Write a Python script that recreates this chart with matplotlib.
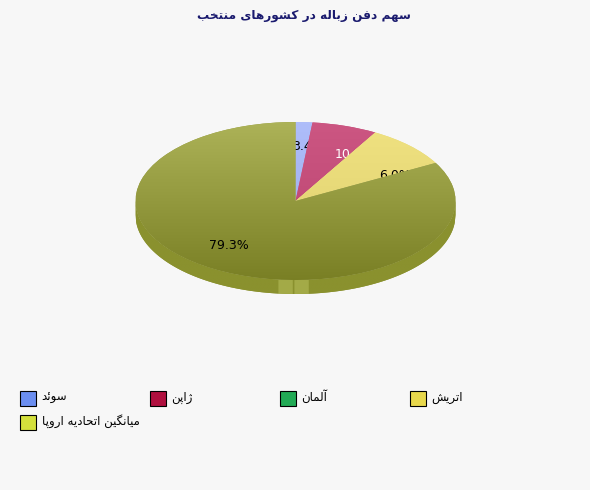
import numpy as np
import matplotlib
matplotlib.use('Agg')
import matplotlib.pyplot as plt
import matplotlib.colors as mcolors
from matplotlib.patches import Polygon, Rectangle

# datos
paises = ['سوئد', 'ژاپن', 'آلمان', 'اتریش', 'میانگین اتحادیه اروپا']
# porcentajes impresos sobre las porciones
etiqueta_pct = [3.4, 10.9, 0.0, 6.0, 79.3]
# tamaño con que se dibuja cada porcion (en el original no coincide con el texto)
tam_porcion = [1.7, 6.6, 0.0, 8.7, 83.0]
titulo = 'سهم دفن زباله در کشورهای منتخب'

color_leyenda = ['#6b8ef0', '#b0103f', '#22aa55', '#e8d84c', '#d4e03c']
color_cara = ['#a4b3f0', '#c24c78', '#22aa55', '#e6d877', '#93993e']
grad_cara = [0.04, 0.04, 0.04, 0.04, 0.1]
color_texto = ['black', 'white', 'black', 'black', 'black']
color_lado = '#8a912e'
fondo = '#f7f7f7'

# formas de presentacion arabe: aislada, final, inicial, medial
FORMAS = {
    '\u0627': ('\uFE8D', '\uFE8E', None, None),
    '\u0622': ('\uFE81', '\uFE82', None, None),
    '\u0626': ('\uFE89', '\uFE8A', '\uFE8B', '\uFE8C'),
    '\u0628': ('\uFE8F', '\uFE90', '\uFE91', '\uFE92'),
    '\u067E': ('\uFB56', '\uFB57', '\uFB58', '\uFB59'),
    '\u062A': ('\uFE95', '\uFE96', '\uFE97', '\uFE98'),
    '\u062D': ('\uFEA1', '\uFEA2', '\uFEA3', '\uFEA4'),
    '\u062E': ('\uFEA5', '\uFEA6', '\uFEA7', '\uFEA8'),
    '\u062F': ('\uFEA9', '\uFEAA', None, None),
    '\u0631': ('\uFEAD', '\uFEAE', None, None),
    '\u0632': ('\uFEAF', '\uFEB0', None, None),
    '\u0698': ('\uFB8A', '\uFB8B', None, None),
    '\u0633': ('\uFEB1', '\uFEB2', '\uFEB3', '\uFEB4'),
    '\u0634': ('\uFEB5', '\uFEB6', '\uFEB7', '\uFEB8'),
    '\u0641': ('\uFED1', '\uFED2', '\uFED3', '\uFED4'),
    '\u06A9': ('\uFB8E', '\uFB8F', '\uFB90', '\uFB91'),
    '\u06AF': ('\uFB92', '\uFB93', '\uFB94', '\uFB95'),
    '\u0644': ('\uFEDD', '\uFEDE', '\uFEDF', '\uFEE0'),
    '\u0645': ('\uFEE1', '\uFEE2', '\uFEE3', '\uFEE4'),
    '\u0646': ('\uFEE5', '\uFEE6', '\uFEE7', '\uFEE8'),
    '\u0647': ('\uFEE9', '\uFEEA', '\uFEEB', '\uFEEC'),
    '\u0648': ('\uFEED', '\uFEEE', None, None),
    '\u06CC': ('\uFBFC', '\uFBFD', '\uFBFE', '\uFBFF'),
}


def persa(s):
    # matplotlib no une letras ni invierte el orden, se hace a mano
    s = s.replace('\u064A', '\u06CC').replace('\u0643', '\u06A9')
    out = []
    for i, ch in enumerate(s):
        if ch not in FORMAS:
            out.append(ch)
            continue
        prev = s[i - 1] if i > 0 else ''
        nxt = s[i + 1] if i + 1 < len(s) else ''
        une_prev = prev in FORMAS and FORMAS[prev][2] is not None
        une_sig = FORMAS[ch][2] is not None and nxt in FORMAS
        f = FORMAS[ch]
        if une_prev and une_sig:
            out.append(f[3])
        elif une_prev:
            out.append(f[1])
        elif une_sig:
            out.append(f[2])
        else:
            out.append(f[0])
    return ''.join(out)[::-1]


plt.rcParams['font.family'] = ['DejaVu Sans']
W, H = 590, 490
fig = plt.figure(figsize=(W / 100, H / 100), dpi=100, facecolor=fondo)

# ejes: 1 unidad = 160 px en x y 79 px en y, centro en (295.5, 201)
rx, ry = 160, 79
cx, cy = 295.5, 201
xl, yl = (-1.25, 1.25), (-1.5, 1.25)
ax = fig.add_axes([(cx + xl[0] * rx) / W, (H - cy + yl[0] * ry) / H,
                   (xl[1] - xl[0]) * rx / W, (yl[1] - yl[0]) * ry / H])
ax.set_facecolor('none')

prof = 14 / ry

# lateral del pastel
xs = np.linspace(-1, 1, 400)
frente = -np.sqrt(1 - xs ** 2)
verts = np.concatenate([np.column_stack([xs, frente]),
                        np.column_stack([xs[::-1], frente[::-1] - prof])])
lado = Polygon(verts, closed=True, facecolor=color_lado, lw=0, zorder=0)
ax.add_patch(lado)
perfil = np.tile(np.array(mcolors.to_rgb(color_lado)), (400, 1))
brillo = (xs > -0.11) & (xs < 0.078) & (np.abs(xs + 0.016) > 0.006)
perfil[brillo] = np.clip(perfil[brillo] + 0.1, 0, 1)
im = ax.imshow(perfil[None, :, :], extent=(-1, 1, -1 - prof, 0), aspect='auto',
               zorder=0.5, interpolation='bilinear')
im.set_clip_path(lado)

# cara superior
wedges, _ = ax.pie(tam_porcion, colors=color_cara, startangle=90, counterclock=False,
                   radius=1, wedgeprops=dict(linewidth=0))
gy = np.linspace(1, -1, 200)[:, None, None]
for i, w in enumerate(wedges):
    w.set_zorder(2 * i + 1)
    base = np.array(mcolors.to_rgb(color_cara[i]))[None, None, :]
    img = np.clip(base + grad_cara[i] * gy, 0, 1)
    im = ax.imshow(img, extent=(-1, 1, -1, 1), aspect='auto',
                   zorder=2 * i + 1.5, interpolation='bilinear')
    im.set_clip_path(w)

# etiquetas en el angulo medio de los porcentajes impresos
total = sum(etiqueta_pct)
acum = 0
for i, p in enumerate(etiqueta_pct):
    if p > 0:
        th = np.radians((acum + p / 2) / total * 360)
        ax.text(0.7 * np.sin(th), 0.7 * np.cos(th), f'{p:.1f}%', ha='center',
                va='center', fontsize=9, color=color_texto[i], zorder=2 * i + 1.8)
    acum += p

ax.set_xlim(*xl)
ax.set_ylim(*yl)
ax.set_aspect('auto')
ax.axis('off')

fig.text(303.5 / W, 1 - 15 / H, persa(titulo), ha='center', va='center',
         fontsize=8.7, fontweight='bold', color='#1a1a6e')

# leyenda
for i, nombre in enumerate(paises):
    col, fila = i % 4, i // 4
    x0 = 20 + col * 130
    y0 = 390.5 + fila * 24.5
    fig.add_artist(Rectangle((x0 / W, 1 - (y0 + 15) / H), 15.5 / W, 15 / H,
                             facecolor=color_leyenda[i], edgecolor='black', lw=0.8,
                             transform=fig.transFigure))
    fig.text((x0 + 21.5) / W, 1 - (y0 + 6.5) / H, persa(nombre), ha='left',
             va='center', fontsize=8.5, color='black')

fig.savefig('out.png', dpi=100, facecolor=fondo)
